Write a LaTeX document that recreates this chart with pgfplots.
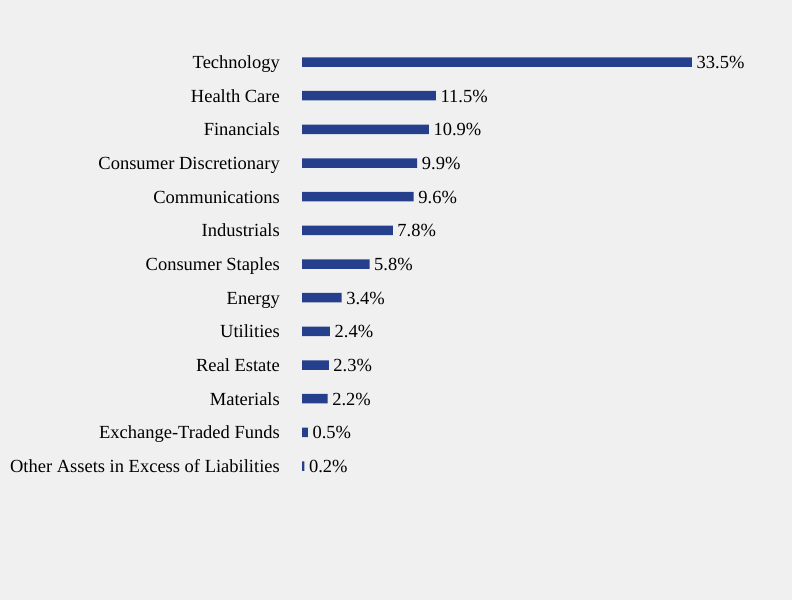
\documentclass[border=0pt]{standalone}
\usepackage{pgfplots}
\pgfplotsset{compat=1.18}
\usepackage{fontspec}
\setmainfont{Liberation Serif}
\definecolor{bg}{HTML}{F0F0F0}
\definecolor{barc}{HTML}{253F8C}
\begin{document}
\begin{tikzpicture}
\fill[bg] (0pt,0pt) rectangle (792pt,600pt);
\begin{axis}[
  at={(302pt,117.1pt)}, anchor=south west,
  scale only axis, width=465.6pt, height=437.7pt,
  xmin=0, xmax=40, ymin=-0.5, ymax=12.5,
  clip=false,
  xbar, bar width=9.5pt,
  axis line style={draw=none},
  xtick=\empty,
  ytick={0,...,12},
  yticklabels={Other Assets in Excess of Liabilities,Exchange-Traded Funds,Materials,Real Estate,Utilities,Energy,Consumer Staples,Industrials,Communications,Consumer Discretionary,Financials,Health Care,Technology},
  major tick length=0pt,
  yticklabel style={font=\fontsize{18.5}{20}\selectfont, inner sep=0pt, xshift=-22pt, yshift=-4pt, anchor=east, text height=0.68em, text depth=0.22em},
  /pgf/number format/assume math mode=true,
  point meta=x,
  nodes near coords={\pgfmathprintnumber[fixed,fixed zerofill,precision=1]{\pgfplotspointmeta}\%},
  nodes near coords align=horizontal,
  every node near coord/.append style={font=\fontsize{18.5}{20}\selectfont, inner sep=0pt, xshift=4.5pt, yshift=-4pt, anchor=west, text=black, text height=0.68em, text depth=0.22em},
]
\addplot[fill=barc, draw=none] coordinates {
(33.5,12) (11.5,11) (10.9,10) (9.9,9) (9.6,8) (7.8,7) (5.8,6) (3.4,5) (2.4,4) (2.3,3) (2.2,2) (0.5,1) (0.2,0)
};
\end{axis}
\end{tikzpicture}
\end{document}
